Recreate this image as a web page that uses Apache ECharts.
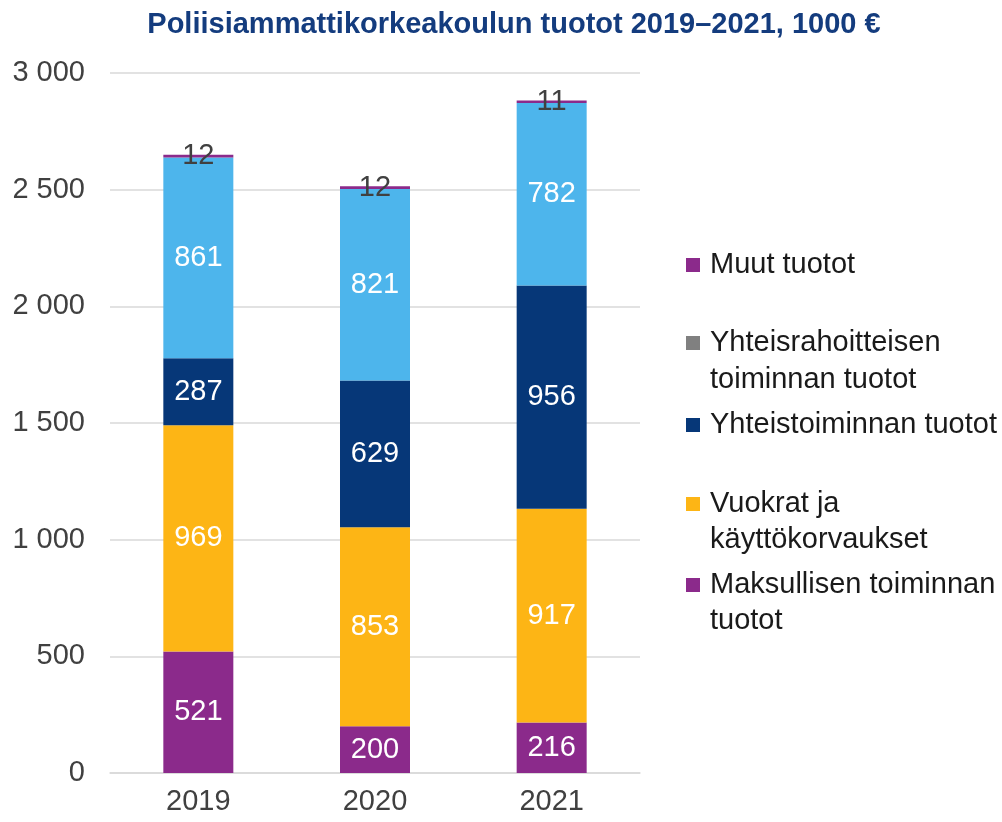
<!DOCTYPE html>
<html lang="fi">
<head>
  <meta charset="UTF-8">
  <title>tuotot</title>
  <style>
    html, body { margin:0; padding:0; background:#fff; }
    #chart { width:1002px; height:822px; }
  </style>
</head>
<body>
  <div id="chart"></div>
  <script src="https://cdn.jsdelivr.net/npm/echarts@6/dist/echarts.min.js"></script>
  <script>
    var years = ['2019', '2020', '2021']
    var maksullinen = [521, 200, 216]
    var vuokrat = [969, 853, 917]
    var yhteistoiminta = [287, 629, 956]
    var yhteisrahoitteinen = [861, 821, 782]
    var muut = [12, 12, 11]
    var yTicks = [0, 500, 1000, 1500, 2000, 2500, 3000]

    var font = 'Liberation Sans, Arial, sans-serif'
    var names = {
      muut: 'Muut tuotot',
      yr: 'Yhteisrahoitteisen toiminnan tuotot',
      yt: 'Yhteistoiminnan tuotot',
      vu: 'Vuokrat ja käyttökorvaukset',
      ma: 'Maksullisen toiminnan tuotot'
    }
    // legend text split in lines (first line gets the icon)
    var legendLines = {}
    legendLines[names.muut] = ['Muut tuotot']
    legendLines[names.yr] = ['Yhteisrahoitteisen', 'toiminnan tuotot']
    legendLines[names.yt] = ['Yhteistoiminnan tuotot']
    legendLines[names.vu] = ['Vuokrat ja', 'käyttökorvaukset']
    legendLines[names.ma] = ['Maksullisen toiminnan', 'tuotot']

    var LH = 37
    function legend(name, centerY, line, iconColor) {
      var item = { name: name }
      if (iconColor) item.itemStyle = { color: iconColor }
      if (line > 0) { item.icon = 'none'; item.itemStyle = { opacity: 0 } }
      return {
        data: [item],
        left: 686,
        top: centerY - LH / 2,
        padding: 0,
        itemWidth: 14,
        itemHeight: 14,
        icon: 'rect',
        selectedMode: false,
        formatter: function (n) { return legendLines[n][line] },
        textStyle: {
          fontFamily: font,
          fontSize: 29,
          color: '#1a1a1a',
          lineHeight: LH,
          padding: [0, 0, 0, 5]
        }
      }
    }

    function seg(name, data, color, labelColor) {
      return {
        name: name,
        type: 'bar',
        stack: 'total',
        barWidth: 70,
        data: data,
        itemStyle: { color: color },
        label: {
          show: true,
          position: 'inside',
          fontFamily: font,
          fontSize: 29,
          color: labelColor || '#fff'
        }
      }
    }

    var chart = echarts.init(document.getElementById('chart'))
    chart.setOption({
      animation: false,
      title: {
        text: 'Poliisiammattikorkeakoulun tuotot 2019–2021, 1000 €',
        left: 509,
        textAlign: 'center',
        top: 5,
        textStyle: { fontFamily: font, fontSize: 29, fontWeight: 'bold', color: '#143c7e' }
      },
      legend: [
        legend(names.muut, 265, 0),
        legend(names.yr, 343, 0, '#808080'),
        legend(names.yr, 380, 1),
        legend(names.yt, 425, 0),
        legend(names.vu, 504, 0),
        legend(names.vu, 540, 1),
        legend(names.ma, 585, 0),
        legend(names.ma, 621, 1)
      ],
      grid: { left: 110, right: 362, top: 73, bottom: 49 },
      xAxis: {
        type: 'category',
        data: years,
        axisTick: { show: false },
        axisLine: { lineStyle: { color: '#d9d9d9', width: 1.5 } },
        axisLabel: { fontFamily: font, fontSize: 29, color: '#404040', margin: 14 }
      },
      yAxis: {
        type: 'value',
        min: yTicks[0],
        max: yTicks[yTicks.length - 1],
        interval: 500,
        axisLine: { show: false },
        axisTick: { show: false },
        splitLine: { lineStyle: { color: '#d9d9d9', width: 1.5 } },
        axisLabel: {
          fontFamily: font, fontSize: 29, color: '#404040', margin: 25,
          formatter: function (v) { return String(v).replace(/\B(?=(\d{3})+(?!\d))/g, ' ') }
        }
      },
      series: [
        seg(names.ma, maksullinen, '#8b2a8b'),
        seg(names.vu, vuokrat, '#fdb515'),
        seg(names.yt, yhteistoiminta, '#063778'),
        seg(names.yr, yhteisrahoitteinen, '#4db5ec'),
        seg(names.muut, muut, '#8b2a8b', '#404040')
      ]
    })
  </script>
</body>
</html>
